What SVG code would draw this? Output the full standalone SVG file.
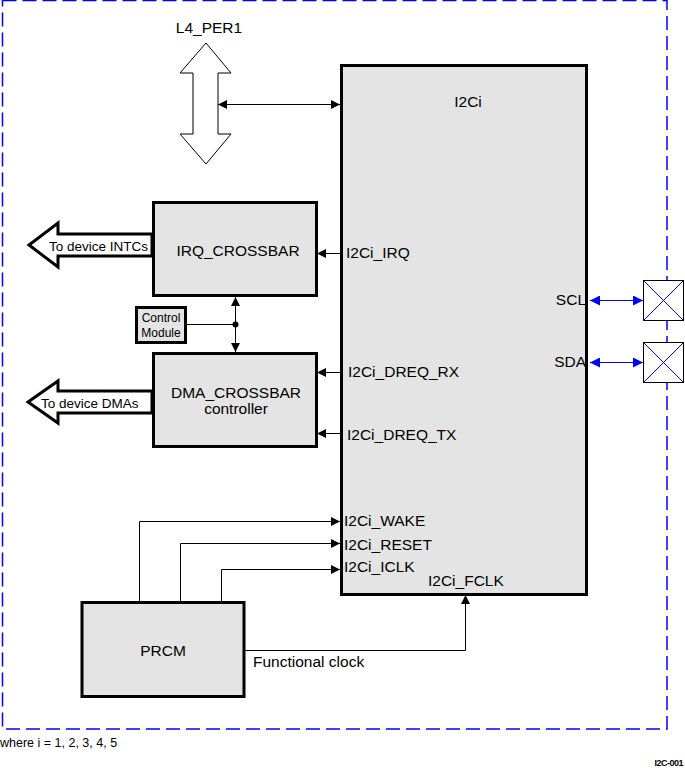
<svg xmlns="http://www.w3.org/2000/svg" width="685" height="768" viewBox="0 0 685 768">
<defs>
<style>
text{font-family:"Liberation Sans",Arial,sans-serif;fill:#000}
.box{fill:#e4e4e4;stroke:#000;stroke-width:3}
.w{fill:none;stroke:#000;stroke-width:1}
.b{fill:none;stroke:#0000ff;stroke-width:1}
.big{font-size:15.5px}
.sig{font-size:15.5px}
.sm{font-size:12px}
.td{font-size:13.5px}
</style>
<marker id="ah" viewBox="0 0 10 10" refX="10" refY="5" markerWidth="9" markerHeight="9" markerUnits="userSpaceOnUse" orient="auto-start-reverse"><path d="M0,0 L10,5 L0,10 z" fill="#000"/></marker>
<marker id="ab" viewBox="0 0 10 10" refX="10" refY="5" markerWidth="10" markerHeight="10" markerUnits="userSpaceOnUse" orient="auto-start-reverse"><path d="M0,0 L10,5 L0,10 z" fill="#0000ff"/></marker>
</defs>
<rect width="685" height="768" fill="#fff"/>
<rect x="2.5" y="0.5" width="664.5" height="728.5" fill="none" stroke="#0000ff" stroke-width="1.5" stroke-dasharray="14,6"/>

<g id="l4_per1">
<polygon points="206,43 180,73 193,73 193,134 180,134 206,164 231,134 218,134 218,73 231,73" fill="#fff" stroke="#000" stroke-width="1"/>
<text x="209" y="33" class="big" text-anchor="middle">L4_PER1</text>
</g>

<g id="i2ci">
<rect class="box" x="341.5" y="65.5" width="245" height="529"/>
<text x="468" y="107" class="big" text-anchor="middle">I2Ci</text>
<text x="346" y="258" class="sig">I2Ci_IRQ</text>
<text x="348" y="377" class="sig">I2Ci_DREQ_RX</text>
<text x="347" y="440" class="sig">I2Ci_DREQ_TX</text>
<text x="586" y="305" class="sig" text-anchor="end">SCL</text>
<text x="586" y="367" class="sig" text-anchor="end">SDA</text>
<text x="344" y="526" class="sig">I2Ci_WAKE</text>
<text x="344" y="550" class="sig">I2Ci_RESET</text>
<text x="344" y="572" class="sig">I2Ci_ICLK</text>
<text x="428" y="586" class="sig">I2Ci_FCLK</text>
</g>

<g id="irq_crossbar">
<rect class="box" x="153.5" y="202.5" width="163" height="93"/>
<text x="238" y="256" class="big" text-anchor="middle">IRQ_CROSSBAR</text>
</g>
<g id="to_intc">
<polygon points="152,234 58,234 58,223 29,245 58,267 58,256 152,256" fill="#fff" stroke="#000" stroke-width="3" stroke-linejoin="miter"/>
<text x="49" y="251" class="td">To device INTCs</text>
</g>

<g id="dma_crossbar">
<rect class="box" x="153.5" y="353.5" width="163" height="93"/>
<text x="236" y="398" class="big" text-anchor="middle">DMA_CROSSBAR</text>
<text x="236" y="414" class="big" text-anchor="middle">controller</text>
</g>
<g id="to_dma">
<polygon points="152,391 58,391 58,381 28,402 58,423 58,413 152,413" fill="#fff" stroke="#000" stroke-width="3"/>
<text x="41" y="408" class="td">To device DMAs</text>
</g>

<g id="control_module">
<rect class="box" x="136.5" y="307.5" width="49" height="35"/>
<text x="161" y="322" class="sm" text-anchor="middle">Control</text>
<text x="161" y="337" class="sm" text-anchor="middle">Module</text>
</g>

<g id="prcm">
<rect class="box" x="82" y="602.5" width="162" height="94"/>
<text x="163" y="656" class="big" text-anchor="middle">PRCM</text>
</g>

<g id="scl_pad">
<rect x="643.5" y="280.5" width="40" height="40" fill="#fff" stroke="#000" stroke-width="1"/>
<path d="M644,281 L683,320 M683,281 L644,320" class="b"/>
</g>
<g id="sda_pad">
<rect x="643.5" y="342.5" width="40" height="40" fill="#fff" stroke="#000" stroke-width="1"/>
<path d="M644,343 L683,382 M683,343 L644,382" class="b"/>
</g>

<g id="connectors">
<line x1="218" y1="104.5" x2="340" y2="104.5" class="w" marker-start="url(#ah)" marker-end="url(#ah)"/>
<line x1="340" y1="253.5" x2="317" y2="253.5" class="w" marker-end="url(#ah)"/>
<line x1="340" y1="372.5" x2="317" y2="372.5" class="w" marker-end="url(#ah)"/>
<line x1="340" y1="433.5" x2="317" y2="433.5" class="w" marker-end="url(#ah)"/>
<line x1="235.5" y1="297" x2="235.5" y2="352" class="w" marker-start="url(#ah)" marker-end="url(#ah)"/>
<line x1="186" y1="324.5" x2="235.5" y2="324.5" class="w"/>
<circle cx="235.5" cy="324.5" r="3" fill="#000"/>
<line x1="590" y1="300.5" x2="643" y2="300.5" class="b" marker-start="url(#ab)" marker-end="url(#ab)"/>
<line x1="590" y1="362.5" x2="643" y2="362.5" class="b" marker-start="url(#ab)" marker-end="url(#ab)"/>
<polyline points="139.5,601 139.5,521.5 340,521.5" class="w" marker-end="url(#ah)"/>
<polyline points="180.5,601 180.5,543.5 340,543.5" class="w" marker-end="url(#ah)"/>
<polyline points="221.5,601 221.5,569.5 340,569.5" class="w" marker-end="url(#ah)"/>
<polyline points="245,650.5 465.5,650.5 465.5,595" class="w" marker-end="url(#ah)"/>
<text x="253" y="667" class="sig">Functional clock</text>
</g>

<text x="0" y="747" font-size="12.5px">where i = 1, 2, 3, 4, 5</text>
<text x="683" y="766" font-size="9px" text-anchor="end" font-weight="bold" letter-spacing="-0.5">I2C-001</text>
</svg>
